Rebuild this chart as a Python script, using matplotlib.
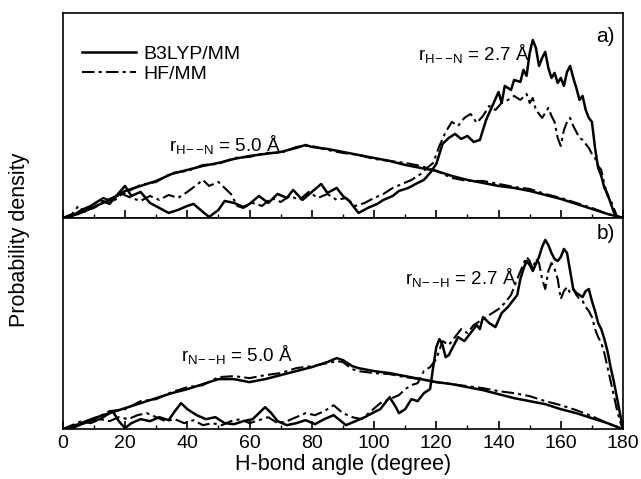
import numpy as np
import matplotlib.pyplot as plt
from matplotlib.ticker import MultipleLocator

plt.rcParams['font.family'] = ['Liberation Sans', 'DejaVu Sans']
plt.rcParams['mathtext.fontset'] = 'custom'
plt.rcParams['mathtext.rm'] = 'Liberation Sans'
plt.rcParams['mathtext.it'] = 'Liberation Sans:italic'

# ---- panel a) r(H--N) = 2.7 A ----
a27_b3_x = [0, 3, 6, 9, 12, 15, 18, 20, 22, 25, 28, 31, 34, 37, 40, 42, 45, 47, 50, 52, 55, 58, 60, 63, 66, 69, 72, 74, 77, 80,
            83, 85, 88, 90, 92, 95, 98, 101, 103, 106, 108, 111, 114, 116, 118, 120, 122, 124, 126, 128, 130, 132, 134, 136,
            138, 140, 141, 142, 144, 145, 147, 148, 149, 150, 151, 152, 153, 154, 155, 156, 157, 158, 159, 160, 161, 162,
            163, 164, 165, 166, 167, 168, 169, 170, 171, 172, 173, 174, 175, 176, 177, 178, 180]
a27_b3_y = [0, 2, 8, 12, 18, 14, 25, 32, 22, 26, 15, 10, 5, 8, 12, 14, 6, 1, 8, 17, 15, 11, 14, 22, 15, 24, 20, 28, 18, 26,
            34, 25, 30, 22, 17, 5, 10, 14, 18, 22, 27, 30, 35, 38, 45, 54, 74, 80, 84, 79, 82, 76, 78, 98,
            112, 126, 115, 132, 128, 138, 136, 148, 142, 165, 178, 170, 152, 160, 166, 150, 140, 145, 135, 140, 132, 146,
            152, 140, 130, 118, 122, 108, 100, 96, 70, 50, 42, 30, 24, 15, 6, 0, 0]
a27_hf_x = [0, 3, 5, 7, 10, 13, 16, 19, 22, 25, 28, 31, 34, 37, 40, 43, 45, 47, 50, 52, 54, 56, 58, 61, 64, 67, 70, 73, 76, 79,
            82, 85, 88, 91, 94, 97, 100, 103, 106, 109, 112, 115, 117, 119, 121, 123, 125, 127, 129, 131, 133, 135, 137,
            139, 141, 143, 145, 147, 149, 150, 151, 152, 154, 156, 157, 158, 159, 160, 161, 162, 163, 164, 165, 166, 167,
            168, 169, 170, 171, 172, 173, 174, 175, 176, 177, 178, 180]
a27_hf_y = [0, 4, 12, 6, 14, 20, 16, 24, 20, 17, 22, 18, 23, 20, 26, 33, 38, 32, 36, 30, 24, 12, 10, 15, 12, 20, 16, 22, 18, 26,
            20, 24, 18, 20, 12, 15, 20, 24, 30, 34, 38, 44, 50, 55, 72, 86, 96, 92, 100, 104, 95, 102, 112,
            108, 115, 118, 122, 118, 124, 115, 120, 108, 100, 110, 102, 96, 80, 72, 88, 96, 100, 92, 86, 80, 78,
            74, 70, 64, 60, 52, 48, 34, 22, 18, 10, 2, 0]

# ---- panel a) r(H--N) = 5.0 A ----
a50_x = [0, 5, 10, 15, 20, 25, 30, 35, 40, 45, 50, 55, 60, 65, 70, 75, 78, 80, 85, 90, 95, 100, 105, 110, 115, 120,
         125, 130, 135, 140, 145, 150, 155, 160, 165, 170, 175, 180]
a50_b3_y = [0, 4, 11, 18, 27, 32, 37, 44, 48, 52, 55, 59, 62, 64, 66, 70, 73, 71, 69, 66, 63, 60, 57, 53, 50, 47,
            42, 38, 35, 32, 30, 27, 23, 19, 14, 9, 4, 0]
a50_hf_y = [0, 5, 10, 19, 25, 33, 36, 45, 47, 53, 54, 60, 61, 65, 65, 71, 72, 72, 68, 65, 63, 59, 57, 55, 52, 47,
            40, 37, 37, 34, 31, 29, 24, 20, 15, 10, 4, 0]

# ---- panel b) r(N--H) = 2.7 A ----
b27_b3_x = [0, 3, 6, 9, 12, 14, 16, 18, 20, 22, 25, 28, 31, 34, 36, 38, 40, 43, 46, 49, 52, 55, 58, 61, 63, 65, 67, 69,
            72, 75, 78, 81, 84, 87, 89, 91, 94, 97, 100, 102, 104, 105, 107, 108, 110, 112, 114, 116, 118, 119, 120,
            121, 122, 123, 124, 125, 126, 127, 129, 131, 133, 134, 135, 137, 139, 141, 143, 145, 146, 147, 148, 149,
            150, 151, 152, 153, 154, 155, 156, 157, 158, 159, 160, 161, 162, 163, 164, 165, 166, 167, 168, 169, 170,
            171, 172, 173, 174, 175, 176, 177, 178, 179, 180]
b27_b3_y = [0, 1, 5, 8, 10, 14, 18, 8, 1, 6, 10, 8, 12, 9, 18, 26, 20, 14, 10, 12, 6, 5, 8, 10, 16, 22, 16, 8,
            4, 6, 9, 5, 10, 14, 9, 4, 8, 12, 17, 20, 28, 32, 22, 16, 20, 30, 28, 36, 40, 62, 82,
            90, 84, 72, 74, 80, 86, 92, 88, 96, 104, 100, 112, 106, 102, 116, 122, 130, 134, 150, 160, 168,
            164, 158, 165, 172, 182, 189, 184, 176, 170, 168, 172, 180, 176, 158, 140, 136, 134, 132, 138, 140, 128,
            118, 106, 100, 90, 78, 62, 48, 32, 16, 0]
b27_hf_x = [0, 3, 6, 9, 12, 15, 18, 21, 24, 27, 30, 33, 36, 39, 42, 45, 48, 51, 54, 57, 60, 63, 66, 69, 72, 75, 78,
            81, 84, 87, 90, 93, 96, 99, 102, 105, 108, 110, 112, 114, 116, 118, 120, 122, 124, 126, 128, 130, 132,
            134, 136, 138, 140, 142, 144, 146, 148, 149, 150, 151, 152, 153, 154, 155, 156, 157, 158, 159, 160, 161,
            162, 163, 164, 165, 166, 167, 168, 169, 170, 171, 172, 173, 174, 175, 176, 177, 178, 179, 180]
b27_hf_y = [0, 4, 8, 6, 10, 8, 12, 10, 14, 16, 12, 8, 10, 6, 9, 4, 6, 4, 8, 10, 6, 9, 12, 6, 8, 12, 16,
            14, 18, 24, 16, 12, 10, 18, 26, 30, 34, 40, 44, 46, 58, 62, 70, 88, 84, 92, 100, 96, 104,
            108, 112, 116, 120, 126, 134, 150, 165, 172, 168, 160, 170, 166, 150, 140, 158, 166, 160, 150, 130, 138,
            142, 136, 140, 134, 130, 128, 122, 118, 112, 100, 92, 86, 76, 62, 48, 34, 20, 8, 0]

# ---- panel b) r(N--H) = 5.0 A ----
b50_x = [0, 5, 10, 15, 20, 25, 30, 35, 40, 45, 50, 55, 60, 65, 70, 75, 80, 85, 88, 90, 93, 95, 100, 105, 110, 115,
         120, 125, 130, 135, 140, 145, 150, 155, 160, 165, 170, 175, 180]
b50_b3_y = [0, 5, 11, 16, 21, 26, 31, 36, 40, 45, 50, 50, 47, 50, 54, 58, 62, 67, 71, 69, 63, 61, 58, 56, 53, 50,
            47, 45, 42, 39, 35, 31, 28, 25, 20, 16, 11, 6, 0]
b50_hf_y = [0, 6, 10, 18, 20, 28, 30, 37, 42, 44, 52, 53, 51, 54, 56, 61, 63, 66, 68, 67, 60, 58, 56, 55, 52, 50,
            47, 45, 43, 41, 38, 36, 33, 28, 24, 19, 13, 6, 0]

dashdot = (0, (6, 2, 1.5, 2))

fig = plt.figure(figsize=(6.41, 4.79), dpi=100)
ax1 = fig.add_axes([0.098, 0.545, 0.874, 0.428])
ax2 = fig.add_axes([0.098, 0.104, 0.874, 0.441])

for ax in (ax1, ax2):
    ax.set_xlim(0, 180)
    ax.set_yticks([])
    ax.xaxis.set_major_locator(MultipleLocator(20))
    ax.xaxis.set_minor_locator(MultipleLocator(10))
    ax.tick_params(axis='x', which='major', direction='in', length=6, width=1.2, labelsize=14, pad=4.5)
    ax.tick_params(axis='x', which='minor', direction='in', length=3, width=1)
    for s in ax.spines.values():
        s.set_linewidth(1.2)

ax1.set_ylim(0, 205)
ax2.set_ylim(0, 211)
ax1.tick_params(axis='x', labelbottom=False)

ax1.plot(a27_b3_x, a27_b3_y, color='black', lw=1.8, label='B3LYP/MM')
ax1.plot(a27_hf_x, a27_hf_y, color='black', lw=1.5, ls=dashdot, label='HF/MM')
ax1.plot(a50_x, a50_b3_y, color='black', lw=1.8)
ax1.plot(a50_x, a50_hf_y, color='black', lw=1.5, ls=dashdot)

ax2.plot(b27_b3_x, b27_b3_y, color='black', lw=1.8)
ax2.plot(b27_hf_x, b27_hf_y, color='black', lw=1.5, ls=dashdot)
ax2.plot(b50_x, b50_b3_y, color='black', lw=1.8)
ax2.plot(b50_x, b50_hf_y, color='black', lw=1.5, ls=dashdot)

ax1.legend(loc='upper left', bbox_to_anchor=(0.01, 0.91), frameon=False, fontsize=14,
           handlelength=2.8, handletextpad=0.35, labelspacing=0.15, borderaxespad=0.3)

ax1.text(0.985, 0.93, 'a)', transform=ax1.transAxes, ha='right', va='top', fontsize=15)
ax2.text(0.985, 0.97, 'b)', transform=ax2.transAxes, ha='right', va='top', fontsize=15)

ax1.text(34, 67, r'r$_{\mathrm{H\!-\!-\!N}}$ = 5.0 Å', fontsize=13.5)
ax1.text(114, 158, r'r$_{\mathrm{H\!-\!-\!N}}$ = 2.7 Å', fontsize=13.5)
ax2.text(38, 68, r'r$_{\mathrm{N\!-\!-\!H}}$ = 5.0 Å', fontsize=13.5)
ax2.text(110, 145, r'r$_{\mathrm{N\!-\!-\!H}}$ = 2.7 Å', fontsize=13.5)

ax2.set_xlabel('H-bond angle (degree)', fontsize=15.5, labelpad=1)
fig.text(0.03, 0.5, 'Probability density', rotation=90, ha='center', va='center', fontsize=15.5)

fig.savefig('out.png', dpi=100)
